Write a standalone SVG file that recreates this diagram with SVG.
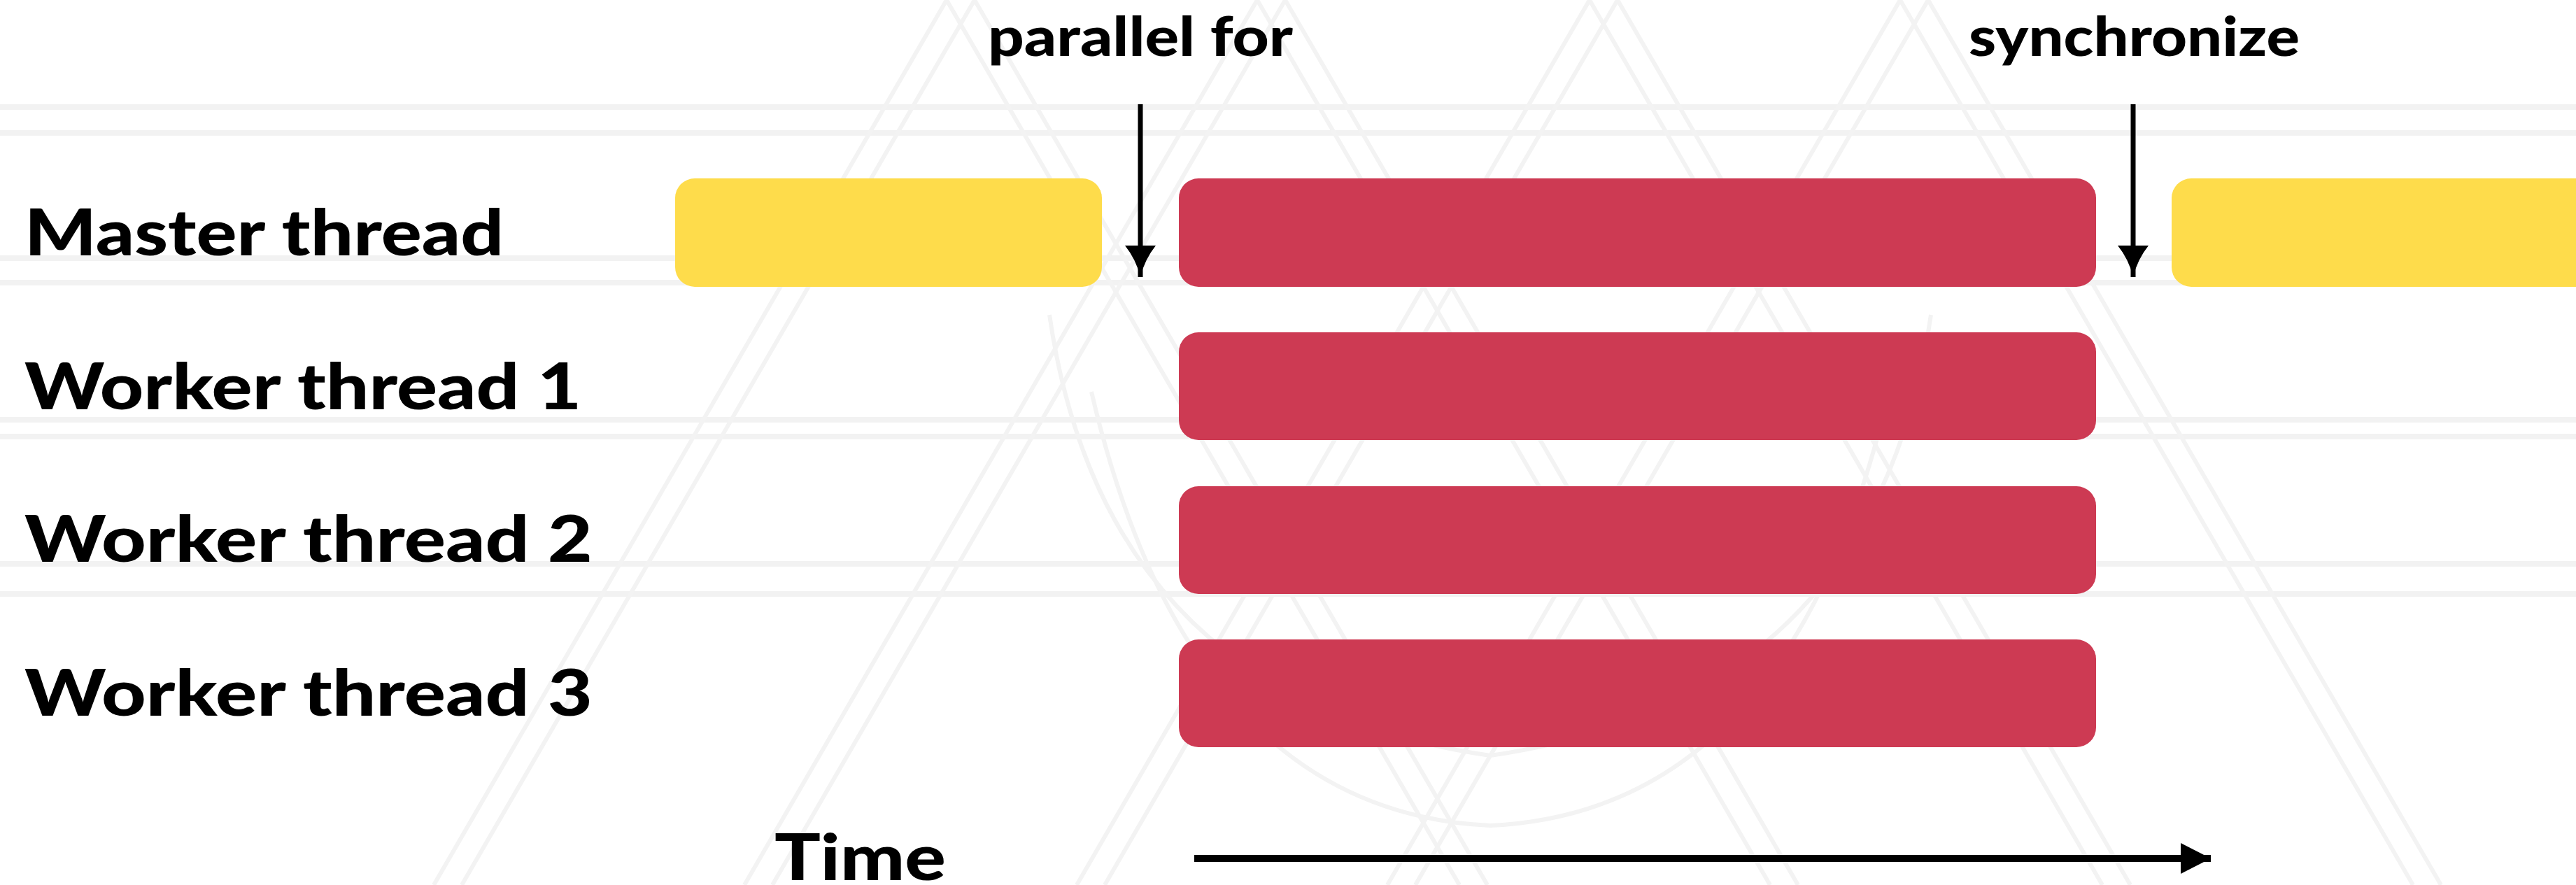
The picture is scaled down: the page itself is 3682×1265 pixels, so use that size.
<svg xmlns="http://www.w3.org/2000/svg" width="3682" height="1265" viewBox="0 0 3682 1265">
<style>
.lbl{font-family:Lato,"Liberation Sans",sans-serif;font-weight:900;font-size:92px;fill:#000}
.top{font-family:Lato,"Liberation Sans",sans-serif;font-weight:900;font-size:78px;fill:#000}
.par{fill:#CD3A53}
.ser{fill:#FEDC4B}
.wm{stroke:#f2f2f2;stroke-width:8;fill:none}
.wd{stroke:#f3f3f3;stroke-width:6;fill:none}
.arr{stroke:#000;stroke-width:7;fill:none}
.tarr{stroke:#000;stroke-width:10;fill:none}
</style>
<defs>
<marker id="down" markerUnits="userSpaceOnUse" viewBox="-45 -24 50 48" refX="0" refY="0" markerWidth="50" markerHeight="48" orient="auto">
<path d="M-45,-22 Q-25,-6 0,0 Q-25,6 -45,22 Z" fill="#000"/>
</marker>
<marker id="tri" markerUnits="userSpaceOnUse" viewBox="-45 -24 50 48" refX="0" refY="0" markerWidth="50" markerHeight="48" orient="auto">
<path d="M-43,-22 L0,0 L-43,22 Z" fill="#000"/>
</marker>
</defs>
<rect width="3682" height="1265" fill="#fff"/>
<g id="watermark">
<line class="wm" x1="0" y1="153" x2="3682" y2="153"/>
<line class="wm" x1="0" y1="190" x2="3682" y2="190"/>
<line class="wm" x1="0" y1="369" x2="3682" y2="369"/>
<line class="wm" x1="0" y1="404" x2="3682" y2="404"/>
<line class="wm" x1="0" y1="600" x2="3682" y2="600"/>
<line class="wm" x1="0" y1="624" x2="3682" y2="624"/>
<line class="wm" x1="0" y1="806" x2="3682" y2="806"/>
<line class="wm" x1="0" y1="849" x2="3682" y2="849"/>
<path class="wd" d="M1353,0 L620,1265 M1393,0 L660,1265 M1353,0 L2086,1265 M1393,0 L2126,1265"/>
<path class="wd" d="M1797,0 L1064,1265 M1837,0 L1104,1265 M1797,0 L2530,1265 M1837,0 L2570,1265"/>
<path class="wd" d="M2272,0 L1539,1265 M2312,0 L1579,1265 M2272,0 L3005,1265 M2312,0 L3045,1265"/>
<path class="wd" d="M2716,0 L1983,1265 M2756,0 L2023,1265 M2716,0 L3449,1265 M2756,0 L3489,1265"/>
<path class="wd" d="M1500,450 Q1580,1000 2130,1080 Q2680,1000 2760,450"/>
<path class="wd" d="M1560,560 Q1700,1160 2130,1180 Q2560,1160 2700,560"/>
</g>
<g id="labels">
<text id="master-label" class="lbl" x="35" y="365" textLength="685" lengthAdjust="spacingAndGlyphs">Master thread</text>
<text id="worker1-label" class="lbl" x="35" y="585" textLength="796" lengthAdjust="spacingAndGlyphs">Worker thread 1</text>
<text id="worker2-label" class="lbl" x="35" y="803" textLength="812" lengthAdjust="spacingAndGlyphs">Worker thread 2</text>
<text id="worker3-label" class="lbl" x="35" y="1023" textLength="812" lengthAdjust="spacingAndGlyphs">Worker thread 3</text>
<text id="time-label" class="lbl" x="1107" y="1258" textLength="245" lengthAdjust="spacingAndGlyphs">Time</text>
<text id="parallel-label" class="top" x="1412" y="80" textLength="436" lengthAdjust="spacingAndGlyphs">parallel for</text>
<text id="sync-label" class="top" x="2814" y="80" textLength="473" lengthAdjust="spacingAndGlyphs">synchronize</text>
</g>
<g id="master-serial-1"><rect class="ser" x="965" y="255" width="610" height="155" rx="28"/></g>
<g id="master-parallel"><rect class="par" x="1685" y="255" width="1311" height="155" rx="28"/></g>
<g id="master-serial-2"><rect class="ser" x="3104" y="255" width="620" height="155" rx="28"/></g>
<g id="worker1"><rect class="par" x="1685" y="475" width="1311" height="154" rx="28"/></g>
<g id="worker2"><rect class="par" x="1685" y="695" width="1311" height="154" rx="28"/></g>
<g id="worker3"><rect class="par" x="1685" y="914" width="1311" height="154" rx="28"/></g>
<g id="connectors">
<line class="arr" x1="1630" y1="149" x2="1630" y2="396" marker-end="url(#down)"/>
<line class="arr" x1="3049" y1="149" x2="3049" y2="396" marker-end="url(#down)"/>
<line class="tarr" x1="1707" y1="1227" x2="3160" y2="1227" marker-end="url(#tri)"/>
</g>
</svg>
